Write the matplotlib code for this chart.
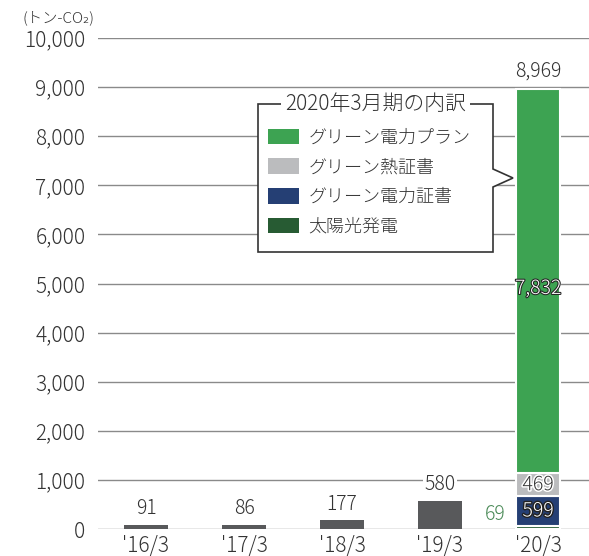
import matplotlib.pyplot as plt
import matplotlib.patheffects as pe
from matplotlib.patches import Patch, Polygon
import numpy as np

plt.rcParams['font.family'] = ['Noto Sans CJK JP', 'DejaVu Sans']
plt.rcParams['font.weight'] = 'light'

# data
years = ["'16/3", "'17/3", "'18/3", "'19/3", "'20/3"]
totals = [91, 86, 177, 580, 8969]

# breakdown of '20/3 (bottom to top)
seg_names = ['太陽光発電', 'グリーン電力証書', 'グリーン熱証書', 'グリーン電力プラン']
seg_vals = [69, 599, 469, 7832]
seg_colors = ['#275b33', '#253f74', '#bbbcbe', '#3da352']
legend_order = ['グリーン電力プラン', 'グリーン熱証書', 'グリーン電力証書', '太陽光発電']

yticks = [0, 1000, 2000, 3000, 4000, 5000, 6000, 7000, 8000, 9000, 10000]

txt = '#333333'
grid_c = '#8a8a8a'
old_c = '#58595b'
fs = 14

fig = plt.figure(figsize=(5.89, 5.56), dpi=100)
ax = fig.add_axes([98/589, 27/556, 491/589, 491/556])

x = np.arange(len(years))
w = 0.45

for v in yticks:
    ax.axhline(v, color=grid_c, lw=1.0, zorder=0)

# earlier years
ax.bar(x[:-1], totals[:-1], width=w, color=old_c, zorder=2)
for i in range(len(years) - 1):
    ax.text(x[i], totals[i] + 110, f'{totals[i]:,}', ha='center', va='bottom',
            fontsize=fs, color=txt, zorder=3,
            bbox=dict(facecolor='white', edgecolor='none', pad=1))

# stacked '20/3
bottom = 0
for v, c in zip(seg_vals, seg_colors):
    ax.bar(x[-1], v, width=w, bottom=bottom, color=c, edgecolor='white',
           linewidth=1.5, zorder=2)
    bottom += v

bottoms = np.cumsum([0] + seg_vals[:-1])
# 69 label to the left
ax.text(x[-1] - 0.33, seg_vals[0] + 20, f'{seg_vals[0]}', ha='right', va='bottom',
        fontsize=fs, color='#4a8a57', zorder=3)
# 599
ax.text(x[-1], bottoms[1] + seg_vals[1] / 2, f'{seg_vals[1]}', ha='center', va='center',
        fontsize=fs, color='white', zorder=4,
        path_effects=[pe.withStroke(linewidth=2.0, foreground='#222222')])
# 469
ax.text(x[-1], bottoms[2] + seg_vals[2] / 2, f'{seg_vals[2]}', ha='center', va='center',
        fontsize=fs, color=txt, zorder=4,
        path_effects=[pe.withStroke(linewidth=2.2, foreground='white')])
# 7,832
ax.text(x[-1], 4900, f'{seg_vals[3]:,}', ha='center', va='center',
        fontsize=fs, color='white', zorder=4,
        path_effects=[pe.withStroke(linewidth=1.5, foreground='#222222')])
# total
ax.text(x[-1], totals[-1] + 150, f'{totals[-1]:,}', ha='center', va='bottom',
        fontsize=fs, color=txt, zorder=3,
        bbox=dict(facecolor='white', edgecolor='none', pad=1))

ax.set_xlim(-0.49, 4.52)
ax.set_ylim(0, 10000)
ax.set_xticks(x)
ax.set_xticklabels(years, fontsize=15, color=txt)
ax.set_yticks(yticks)
ax.set_yticklabels([f'{v:,}' for v in yticks], fontsize=15, color=txt)
ax.tick_params(length=0, pad=9)
ax.tick_params(axis='x', pad=4)
for s in ax.spines.values():
    s.set_visible(False)

fig.text(22/589, 1 - 18/556, '(トン-CO₂)', fontsize=11, color=txt, va='center', ha='left')

# legend callout box (axes fraction)
def fx(px):
    return (px - 98) / 491
def fy(py):
    return (529 - py) / 491

box = Polygon([(fx(258), fy(104)), (fx(493), fy(104)), (fx(493), fy(169)),
               (fx(513), fy(178)), (fx(493), fy(187)), (fx(493), fy(252)),
               (fx(258), fy(252))], closed=True, transform=ax.transAxes,
              facecolor='white', edgecolor='#333333', lw=1.2, zorder=5)
ax.add_patch(box)
ax.text((fx(258) + fx(493)) / 2, fy(104), '2020年3月期の内訳', transform=ax.transAxes,
        ha='center', va='center', fontsize=15, color=txt, zorder=6,
        bbox=dict(facecolor='white', edgecolor='none', pad=3))

handles = [Patch(facecolor=seg_colors[seg_names.index(n)], edgecolor='none') for n in legend_order]
leg = ax.legend(handles, legend_order, loc='upper left',
                bbox_to_anchor=(fx(255), fy(116)), bbox_transform=ax.transAxes,
                frameon=False, fontsize=13, handlelength=1.75, handleheight=0.95,
                handletextpad=0.5, labelspacing=0.65, borderpad=0.2)
for t in leg.get_texts():
    t.set_color(txt)
leg.set_zorder(7)

fig.savefig('out.png', dpi=100)
